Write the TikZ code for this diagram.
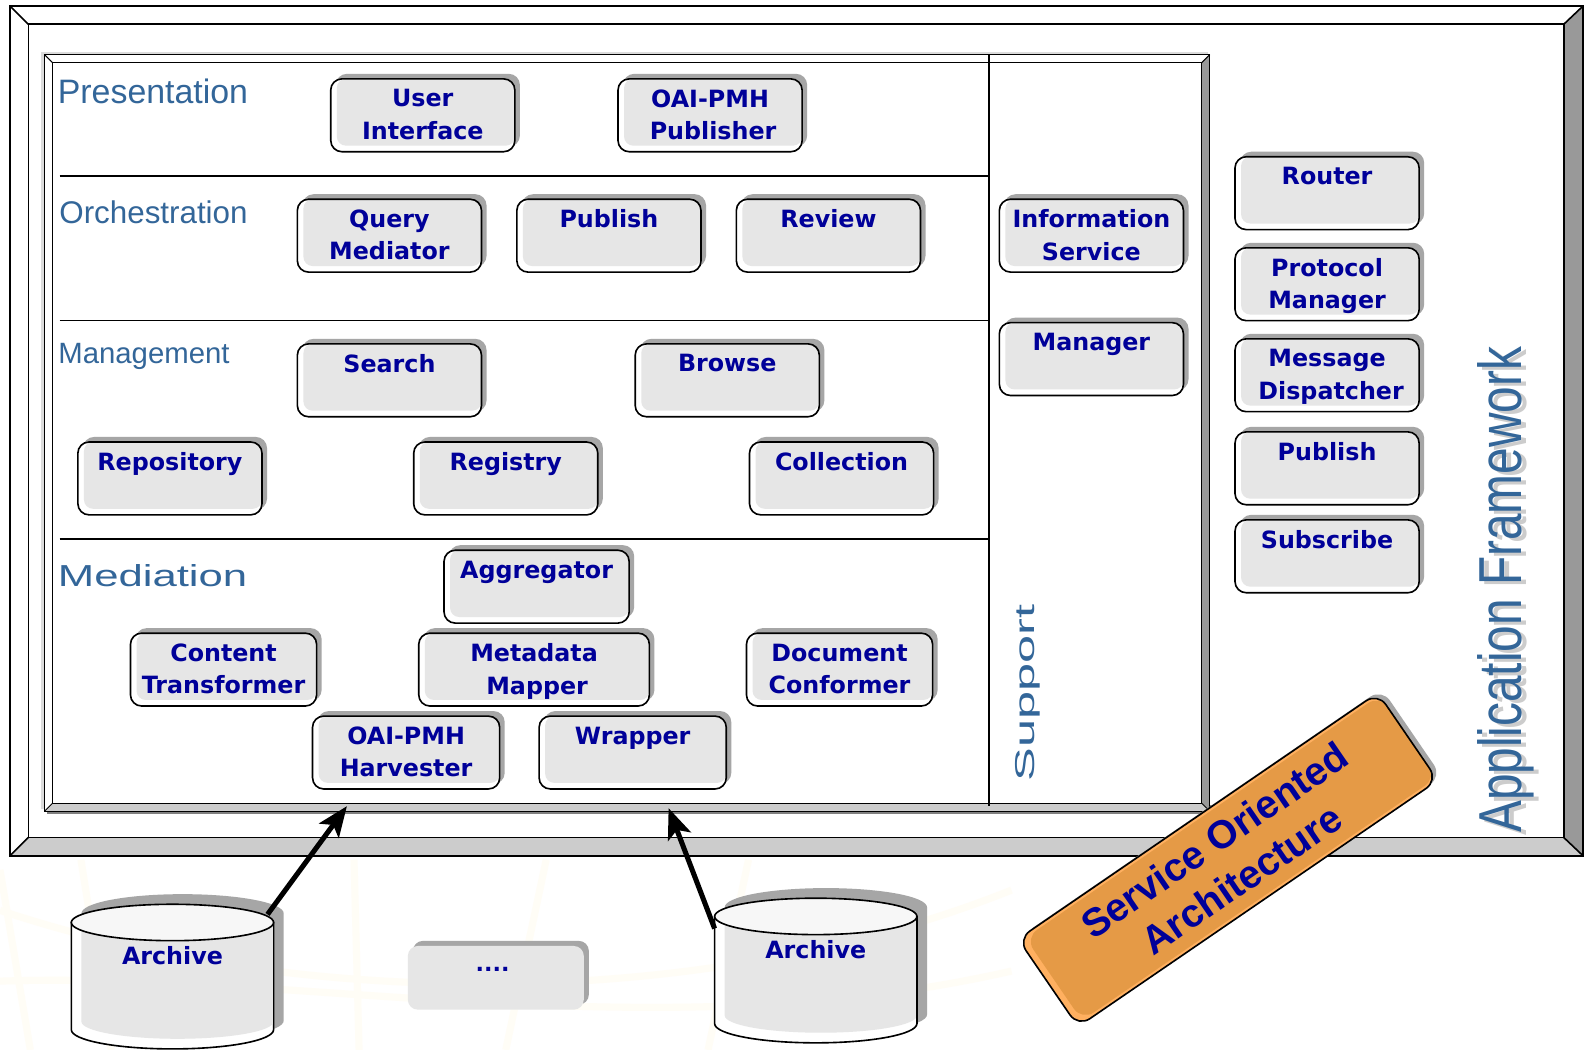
\documentclass[tikz,border=0pt]{standalone}
\usepackage{fontspec}
\setmainfont{Liberation Sans}
\newfontfamily\boxfont{DejaVu Sans}[BoldFont={DejaVu Sans Bold}]
\usetikzlibrary{shadows,arrows.meta,shapes.geometric}
\definecolor{boxgrey}{HTML}{E6E6E6}
\definecolor{shadegrey}{HTML}{A6A6A6}
\definecolor{bandgrey}{HTML}{999999}
\definecolor{lowgrey}{HTML}{CCCCCC}
\definecolor{navytext}{HTML}{000099}
\definecolor{layerblue}{HTML}{336699}
\definecolor{soaorange}{HTML}{E59A46}
\definecolor{soalight}{HTML}{FFB060}
\definecolor{mapcream}{HTML}{FFFDF6}
\tikzset{
    compbox/.style={
        draw, line width=1.6pt, fill=white, rounded corners=11pt, anchor=north west, outer sep=0pt,
        minimum width=#1, minimum height=72pt, inner sep=0pt,
        drop shadow={shadow xshift=5pt, shadow yshift=5pt, opacity=1, fill=shadegrey},
        path picture={\fill[boxgrey, rounded corners=9pt]
            ([xshift=6pt,yshift=6pt]path picture bounding box.south west) rectangle
            (path picture bounding box.north east);}
    },
    compbox/.default=182pt,
    comptext/.style={
        inner sep=0pt, align=center, text=navytext,
        font=\boxfont\bfseries\fontsize{23.5}{32}\selectfont,
        execute at begin node=\strut, execute at end node=\strut
    },
    layerlabel/.style={anchor=west, inner sep=0pt, text=layerblue},
    soashape/.style={rounded corners=14pt, minimum width=431pt, minimum height=105pt, rotate=34.4, outer sep=0pt},
    feedarrow/.style={line width=5pt, -{Stealth[length=30pt,width=24pt,inset=7pt]}},
    rule/.style={line width=1.6pt},
}
% one component box: width, name, top left corner, text
\newcommand{\compnode}[4][182pt]{
    \node[compbox=#1] (#2) at (#3) {};
    \node[comptext] (#2-text) at ([yshift=-4pt]#2.center) {#4};
}
% one archive drum: name, centre of the lid
\newcommand{\archivedrum}[2]{
    \begin{scope}[shift={(#2)}]
        \fill[shadegrey] (-90,-9) arc[start angle=180,end angle=0,x radius=100,y radius=-19]
            -- (110,97) arc[start angle=0,end angle=180,x radius=100,y radius=19] -- cycle;
        \draw[line width=1.6pt, fill=white] (-100,0) -- (-100,106)
            arc[start angle=180,end angle=0,x radius=100,y radius=19] -- (100,0) -- cycle;
        \fill[boxgrey] (-90,0) -- (-90,98)
            arc[start angle=180,end angle=0,x radius=95,y radius=17] -- (100,98) -- (100,0) -- cycle;
        \draw[line width=1.6pt] (100,0) -- (100,106);
        \draw[line width=1.6pt, fill=white!97!black] (0,0) ellipse[x radius=100, y radius=18];
        \coordinate (#1-left) at (-100,12);
        \coordinate (#1-right) at (94,-8);
        \node[text=navytext, font=\boxfont\bfseries\fontsize{23.5}{32}\selectfont] (#1) at (0,33) {Archive};
    \end{scope}
}
\begin{document}
\begin{tikzpicture}[x=1pt,y=-1pt]
    \useasboundingbox (0,0) rectangle (1568,1038);
    \fill[white] (0,0) rectangle (1568,1038);

    % faint map behind the picture
    \begin{scope}[mapcream, line width=7pt]
        \draw (0,900) .. controls (300,1000) and (700,1000) .. (1000,880);
        \draw (0,970) .. controls (300,960) and (650,1040) .. (1000,960);
        \draw (80,850) -- (110,1038);
        \draw (350,850) -- (355,1038);
        \draw (540,850) -- (500,1038);
        \draw (740,850) -- (700,1038);
        \draw (0,860) -- (30,1038);
    \end{scope}

    % outer frame
    \fill[bandgrey] (1546,24) -- (1565,6) -- (1565,846) -- (1546,828) -- cycle;
    \fill[lowgrey] (10,846) -- (28,828) -- (1546,828) -- (1565,846) -- cycle;
    \draw[line width=2.2pt] (10,6) rectangle (1565,846);
    \draw[rule] (28,24) rectangle (1546,828);
    \draw[rule] (10,6) -- (28,24);
    \draw[rule] (1565,6) -- (1546,24);
    \draw[rule] (10,846) -- (28,828);
    \draw[rule] (1565,846) -- (1546,828);

    % inner panel
    \fill[lowgrey!70] (41,51) rectangle (1194,800);
    \fill[gray] (46,796) rectangle (1198,805);
    \fill[white] (44,54) rectangle (1196,802);
    \fill[bandgrey] (1188,62) -- (1196,54) -- (1196,802) -- (1188,794) -- cycle;
    \fill[lowgrey] (44,802) -- (52,794) -- (1188,794) -- (1196,802) -- cycle;
    \draw[line width=1.2pt] (44,54) rectangle (1196,802);
    \draw[line width=1.2pt] (52,62) rectangle (1188,794);
    \draw[line width=1pt] (44,54) -- (52,62);
    \draw[line width=1pt] (1196,54) -- (1188,62);
    \draw[line width=1pt] (44,802) -- (52,794);
    \draw[line width=1pt] (1196,802) -- (1188,794);

    \draw[rule] (59,174) -- (978,174);
    \draw[rule] (59,317) -- (978,317);
    \draw[rule] (59,533) -- (978,533);
    \draw[rule] (978,54) -- (978,797);

    % layer names
    \node[layerlabel, font=\fontsize{33.5}{36}\selectfont] (presentation) at (57,90) {Presentation};
    \node[layerlabel, font=\fontsize{31}{36}\selectfont] (orchestration) at (58.5,210) {Orchestration};
    \node[layerlabel, font=\fontsize{29}{36}\selectfont] (management) at (57.5,352) {Management};
    \node[layerlabel, font=\fontsize{30}{36}\selectfont] (mediation) at (57,569) {\scalebox{1.44}[1]{Mediation}};
    \node[layerlabel, font=\fontsize{27}{36}\selectfont, rotate=90] (support) at (1016,773) {\scalebox{1.85}[1]{Support}};
    \node[text=lowgrey, font=\fontsize{60}{64}\selectfont, rotate=90] (appshade) at (1494,586) {\scalebox{.788}[1]{Application Framework}};
    \node[text=layerblue, font=\fontsize{60}{64}\selectfont, rotate=90] (appname) at (1489,583) {\scalebox{.788}[1]{Application Framework}};

    % components
    \compnode{userif}{327,78}{User\\Interface}
    \compnode{publisher}{611,78}{OAI-PMH\\\hspace*{6pt}Publisher}
    \compnode{mediator}{294,197}{Query\\Mediator}
    \compnode{publish}{511,197}{Publish\\\mbox{}}
    \compnode{review}{728,197}{Review\\\mbox{}}
    \compnode{search}{294,340}{Search\\\mbox{}}
    \compnode{browse}{628,340}{Browse\\\mbox{}}
    \compnode{repository}{77,437}{Repository\\\mbox{}}
    \compnode{registry}{409,437}{Registry\\\mbox{}}
    \compnode{collection}{741,437}{Collection\\\mbox{}}
    \compnode[183pt]{aggregator}{439,544}{Aggregator\\\mbox{}}
    \compnode[184pt]{transformer}{129,626}{Content\\Transformer}
    \compnode[228pt]{mapper}{414,626}{Metadata\\\hspace*{6pt}Mapper}
    \compnode[184pt]{conformer}{738,626}{Document\\Conformer}
    \compnode[185pt]{harvester}{309,708}{OAI-PMH\\Harvester}
    \compnode[185pt]{wrapper}{533,708}{Wrapper\\\mbox{}}
    \compnode{infoservice}{988,197}{Information\\Service}
    \compnode{manager}{988,319}{Manager\\\mbox{}}
    \compnode{router}{1221,155}{Router\\\mbox{}}
    \compnode{protocol}{1221,245}{Protocol\\Manager}
    \compnode{dispatcher}{1221,335}{Message\\\hspace*{8pt}Dispatcher}
    \compnode{frpublish}{1221,427}{Publish\\\mbox{}}
    \compnode{subscribe}{1221,514}{Subscribe\\\mbox{}}

    % archives
    \archivedrum{archiveone}{170.5,912}
    \archivedrum{archivetwo}{806.5,906}
    \node[fill=boxgrey, rounded corners=10pt, minimum width=174pt, minimum height=63pt, anchor=north west,
        drop shadow={shadow xshift=5pt, shadow yshift=5pt, opacity=1, fill=shadegrey}] (dotsbox) at (403,935) {};
    \node[text=navytext, font=\boxfont\bfseries\fontsize{22}{24}\selectfont] (dotslabel) at (487,958) {....};

    \coordinate (tipone) at (343,797);
    \coordinate (tiptwo) at (661,799);
    \draw[feedarrow] (archiveone-right) -- (tipone);
    \draw[feedarrow] (archivetwo-left) -- (tiptwo);

    % the slanted label
    \node[soashape, fill=soalight, drop shadow={shadow xshift=4pt, shadow yshift=4pt, opacity=1, fill=shadegrey}] (soabase) at (1214,850) {};
    \node[soashape, fill=soaorange, minimum width=425pt, minimum height=99pt] (soafill) at (1217,848) {};
    \node[soashape, draw, line width=1.6pt, align=center, text=navytext,
        font=\bfseries\fontsize{39}{47}\selectfont] (soa) at (1214,850) {Service Oriented\\Architecture};
\end{tikzpicture}
\end{document}
